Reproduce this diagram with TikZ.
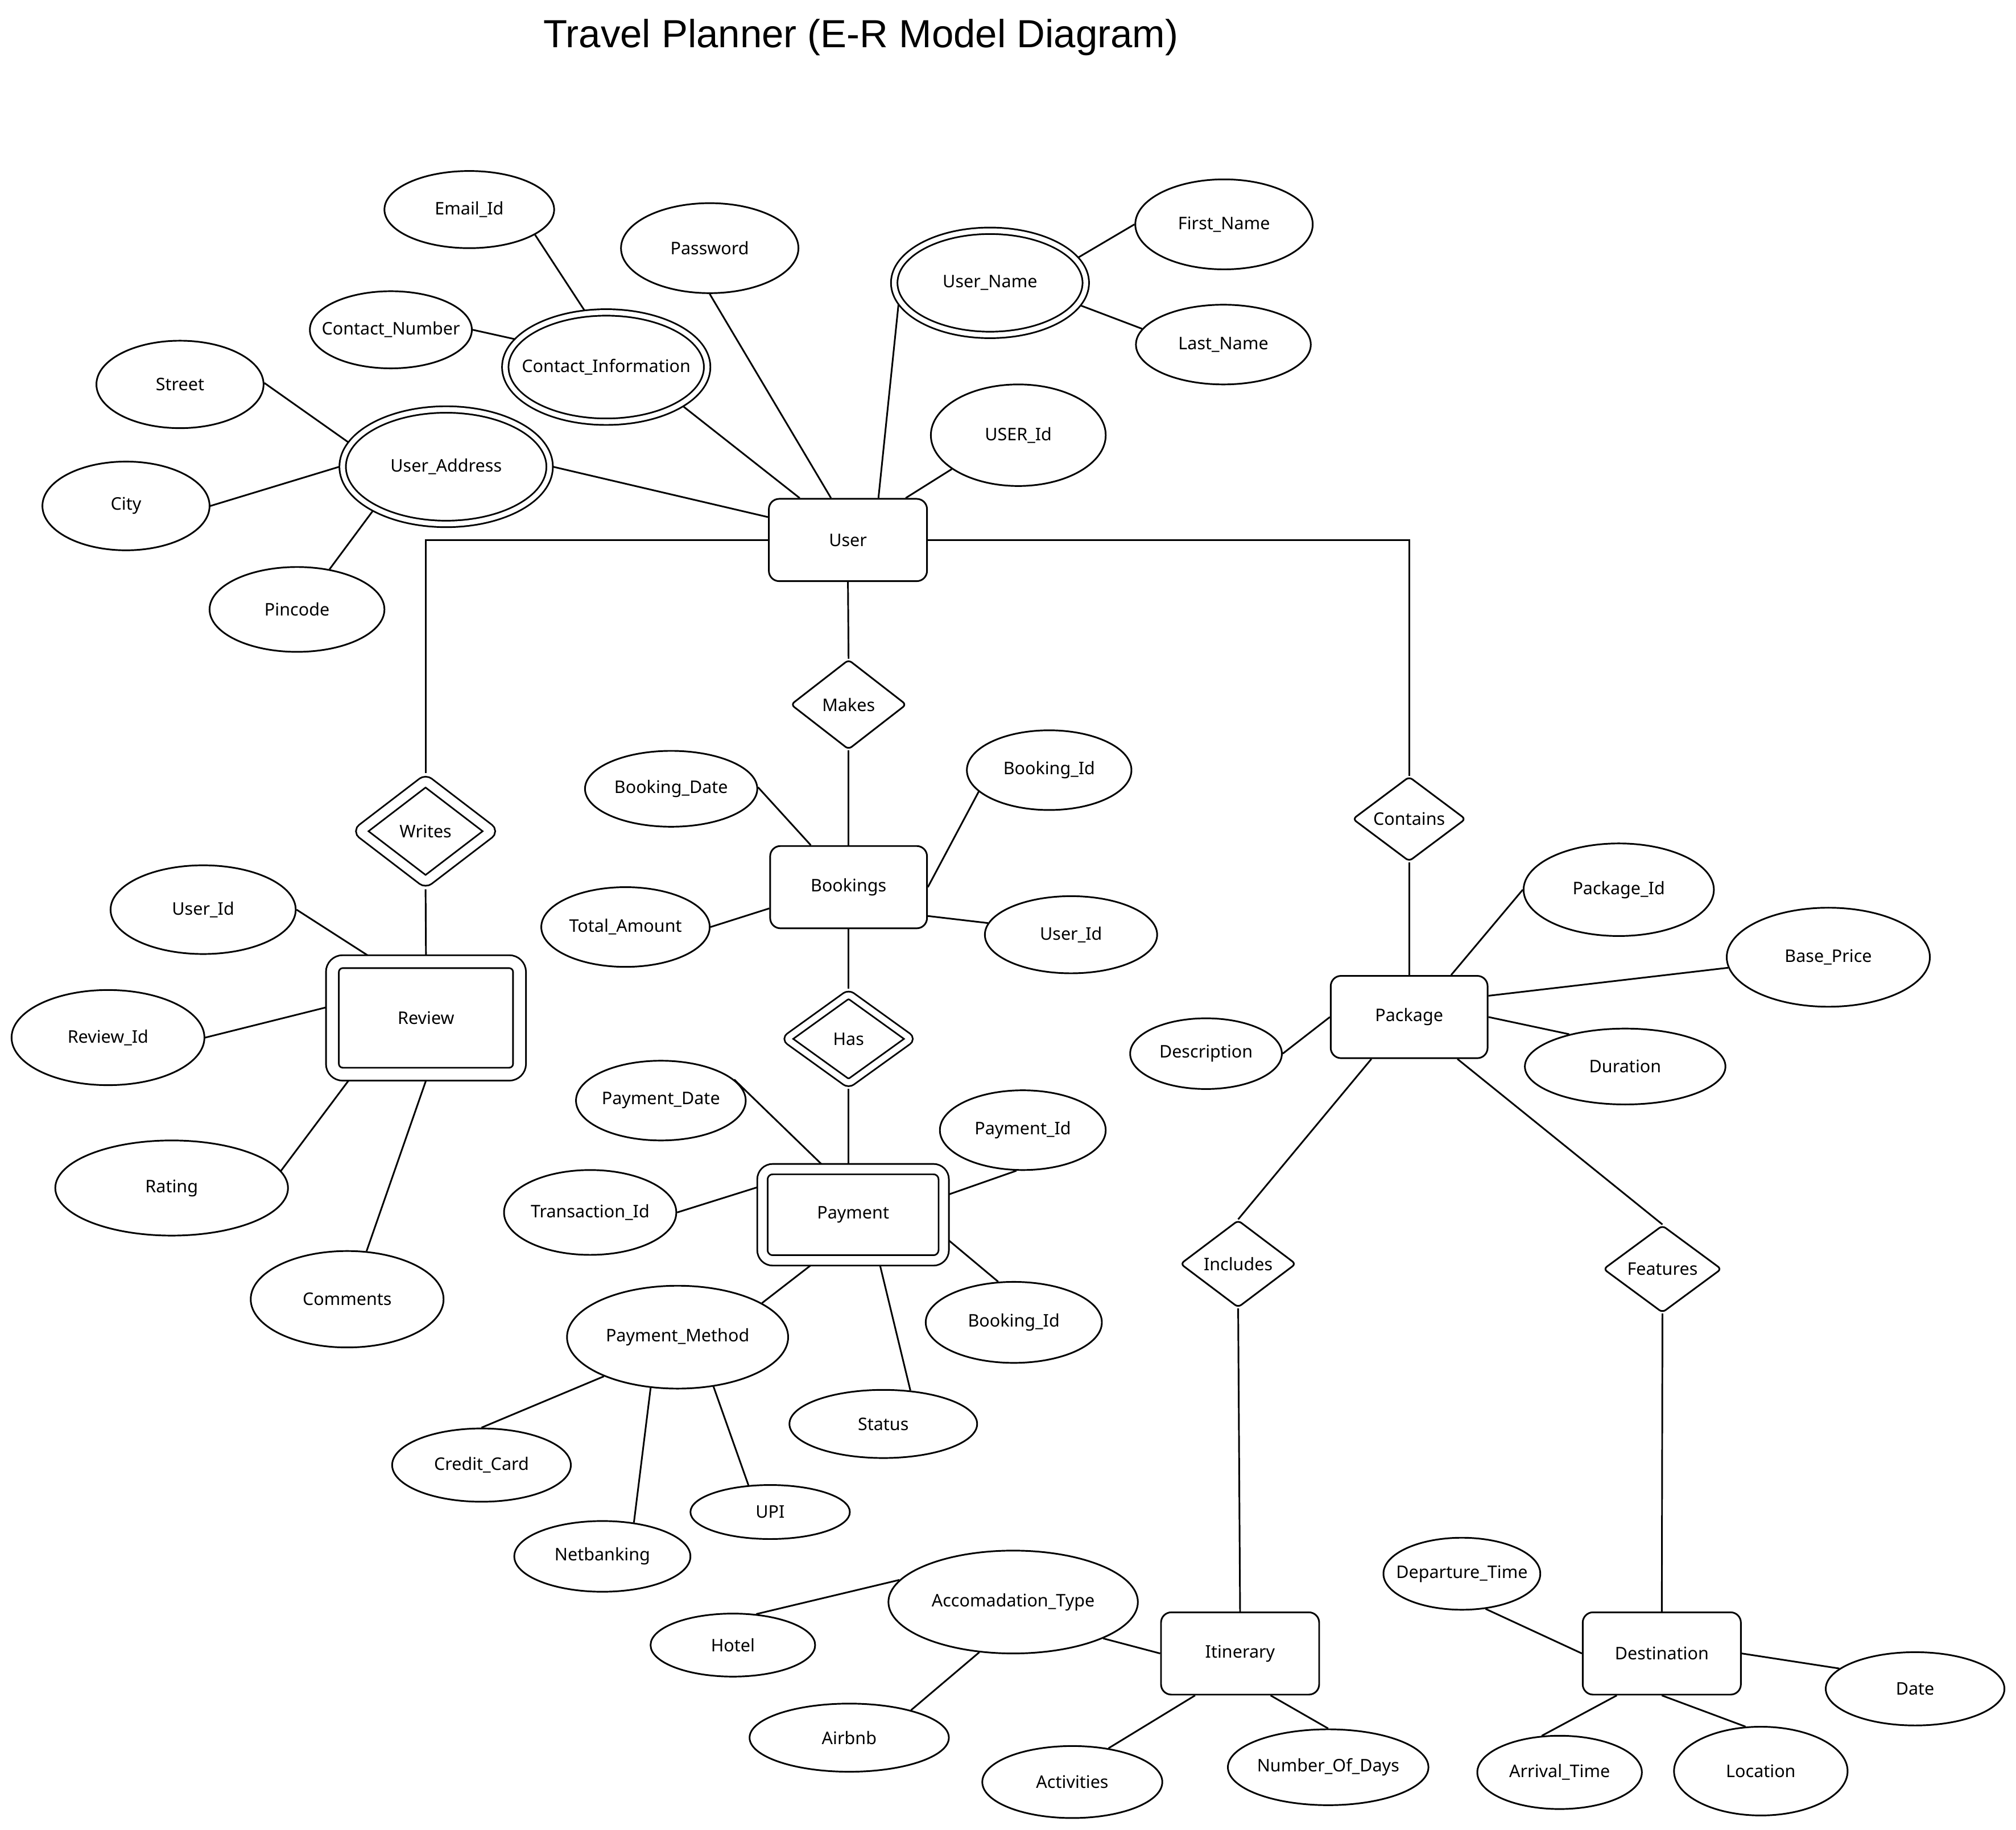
\documentclass[tikz,border=0pt]{standalone}
\usepackage{fontspec}
\setmainfont{Noto Sans}
\newfontfamily\titlefont{Liberation Sans}
\usetikzlibrary{shapes.geometric}
\newcommand\lbl[1]{\makebox[0pt]{#1}}
\newcommand\lblfont{\fontsize{13.5}{16}\selectfont}
\begin{document}
\begin{tikzpicture}[x=1pt,y=-1pt,
  base/.style={draw, line width=1.3pt, inner sep=0pt, font=\lblfont},
  attr/.style 2 args={base, ellipse, minimum width=2*#1, minimum height=2*#2},
  dattr/.style 2 args={base, ellipse, minimum width=2*#1, minimum height=2*#2, double, double distance=3.7pt, outer sep=2.5pt},
  entity/.style 2 args={base, rectangle, rounded corners=8pt, minimum width=#1, minimum height=#2},
  dentity/.style n args={4}{base, rectangle, rounded corners=8pt, minimum width=#1, minimum height=#2, double, double distance=#3, outer sep=#4},
  rel/.style 2 args={base, diamond, rounded corners=3pt, minimum width=#1, minimum height=#2},
  drel/.style n args={4}{base, diamond, rounded corners=3pt, minimum width=#1, minimum height=#2, double, double distance=#3, outer sep=#4},
  conn/.style={line width=1.3pt}]
\useasboundingbox (0,0) rectangle (1568,1423);

\node[font=\titlefont\fontsize{30.5}{36}\selectfont] (title) at (669.5,29) {Travel Planner (E-R Model Diagram)};

% entities
\node[entity={123}{64}] (user) at (659.5,420) {\lbl{User}};
\node[entity={122}{64}] (bookings) at (660,690) {\lbl{Bookings}};
\node[entity={122}{64}] (package) at (1096,791) {\lbl{Package}};
\node[entity={123}{64}] (itinerary) at (964.5,1286) {\lbl{Itinerary}};
\node[entity={123}{64}] (destination) at (1292.5,1286) {\lbl{Destination}};
\node[dentity={145.5}{87.5}{8.7pt}{5pt}] (review) at (331.3,791.7) {\lbl{Review}};
\node[dentity={141}{71}{6.7pt}{4pt}] (payment) at (663.5,944.8) {\lbl{Payment}};

% relationships
\node[rel={90}{70}] (makes) at (660,548) {\lbl{Makes}};
\node[rel={88}{66}] (contains) at (1096,637) {\lbl{Contains}};
\node[rel={90}{68}] (includes) at (963,983) {\lbl{Includes}};
\node[rel={92}{68}] (features) at (1293,987) {\lbl{Features}};
\node[drel={106}{82}{7pt}{4.2pt}] (writes) at (331,646.5) {\lbl{Writes}};
\node[drel={99}{72}{4.7pt}{3pt}] (has) at (660,808) {\lbl{Has}};

% attributes
\node[attr={66}{30}] (email) at (365,163) {\lbl{Email\_Id}};
\node[attr={69}{35}] (password) at (552,193) {\lbl{Password}};
\node[dattr={74.5}{40.5}] (username) at (770,220) {\lbl{User\_Name}};
\node[attr={69}{35}] (firstname) at (952,174.5) {\lbl{First\_Name}};
\node[attr={68}{31}] (lastname) at (951.5,268) {\lbl{Last\_Name}};
\node[attr={63}{30}] (contactnum) at (304,256.5) {\lbl{Contact\_Number}};
\node[dattr={78.5}{42.5}] (contactinfo) at (471.5,285.5) {\lbl{Contact\_Information}};
\node[attr={65}{34}] (street) at (140,299) {\lbl{Street}};
\node[dattr={80.5}{44.5}] (useraddr) at (347,363) {\lbl{User\_Address}};
\node[attr={65}{34.5}] (city) at (98,393.5) {\lbl{City}};
\node[attr={68}{33}] (pincode) at (231,474) {\lbl{Pincode}};
\node[attr={68}{39.5}] (userid) at (792,338.5) {\lbl{USER\_Id}};
\node[attr={67}{29.5}] (bookingdate) at (522,613.5) {\lbl{Booking\_Date}};
\node[attr={64}{31}] (bookingid) at (816,599) {\lbl{Booking\_Id}};
\node[attr={65.5}{31}] (totalamount) at (486.5,721) {\lbl{Total\_Amount}};
\node[attr={67}{30}] (useridb) at (833,727) {\lbl{User\_Id}};
\node[attr={72}{34.5}] (useridr) at (158,707.5) {\lbl{User\_Id}};
\node[attr={75}{37}] (reviewid) at (84,807) {\lbl{Review\_Id}};
\node[attr={90.5}{37}] (rating) at (133.5,924) {\lbl{Rating}};
\node[attr={75}{37.5}] (comments) at (270,1010.5) {\lbl{Comments}};
\node[attr={66}{31}] (paymentdate) at (514,856) {\lbl{Payment\_Date}};
\node[attr={64.5}{31}] (paymentid) at (795.5,879) {\lbl{Payment\_Id}};
\node[attr={67}{33}] (transactionid) at (459,943) {\lbl{Transaction\_Id}};
\node[attr={68.5}{31.5}] (bookingidp) at (788.5,1028.5) {\lbl{Booking\_Id}};
\node[attr={86}{40}] (paymentmethod) at (527,1040) {\lbl{Payment\_Method}};
\node[attr={73}{26.5}] (status) at (687,1107.5) {\lbl{Status}};
\node[attr={69.5}{28.5}] (creditcard) at (374.5,1139.5) {\lbl{Credit\_Card}};
\node[attr={62}{21}] (upi) at (599,1176) {\lbl{UPI}};
\node[attr={68.5}{27.5}] (netbanking) at (468.5,1210.5) {\lbl{Netbanking}};
\node[attr={74}{36}] (packageid) at (1259,692) {\lbl{Package\_Id}};
\node[attr={79}{38.5}] (baseprice) at (1422,744.5) {\lbl{Base\_Price}};
\node[attr={59}{27.5}] (description) at (938,819.5) {\lbl{Description}};
\node[attr={78}{29.5}] (duration) at (1264,829.5) {\lbl{Duration}};
\node[attr={97}{40}] (accom) at (788,1246) {\lbl{Accomadation\_Type}};
\node[attr={64}{24.5}] (hotel) at (570,1279.5) {\lbl{Hotel}};
\node[attr={77.5}{26.5}] (airbnb) at (660.5,1351.5) {\lbl{Airbnb}};
\node[attr={70}{28}] (activities) at (834,1386) {\lbl{Activities}};
\node[attr={78}{29.5}] (nod) at (1033,1374.5) {\lbl{Number\_Of\_Days}};
\node[attr={61}{28}] (departure) at (1137,1224) {\lbl{Departure\_Time}};
\node[attr={69.5}{28.5}] (date) at (1489.5,1313.5) {\lbl{Date}};
\node[attr={64}{28.5}] (arrival) at (1213,1378.5) {\lbl{Arrival\_Time}};
\node[attr={67.5}{34.5}] (location) at (1369.5,1377.5) {\lbl{Location}};

% connectors: user
\draw[conn] (email.339) -- (contactinfo.111);
\draw[conn] (contactnum.east) -- (contactinfo.163);
\draw[conn] (contactinfo.333) -- (user.139);
\draw[conn] (password.south) -- (user.112);
\draw[conn] (username.193) -- (user.54);
\draw[conn] (userid.207) -- (user.36);
\draw[conn] (username.16) -- (firstname.west);
\draw[conn] (username.346) -- (lastname.169.5);
\draw[conn] (street.1) -- (useraddr.166);
\draw[conn] (city.east) -- (useraddr.west);
\draw[conn] (pincode.51) -- (useraddr.211.5);
\draw[conn] (useraddr.east) -- (user.164.5);
\draw[conn] (user.west) -- (writes.north |- user.west) -- (writes.north);
\draw[conn] (user.east) -- (contains.north |- user.east) -- (contains.north);
\draw[conn] (user.south) -- (makes.north);
\draw[conn] (makes.south) -- (bookings.north);
% bookings
\draw[conn] (bookingdate.1) -- (bookings.132);
\draw[conn] (bookingid.197.5) -- (bookings.east);
\draw[conn] (totalamount.east) -- (bookings.195.3);
\draw[conn] (useridb.172) -- (bookings.340);
\draw[conn] (bookings.south) -- (has.north);
\draw[conn] (has.south) -- (has.south |- payment.north);
% review
\draw[conn] (writes.south) -- (review.north);
\draw[conn] (useridr.east) -- (review.133);
\draw[conn] (reviewid.east) -- (review.174.3);
\draw[conn] (rating.9) -- (review.219.3);
\draw[conn] (comments.68) -- (review.south);
% payment
\draw[conn] (paymentdate.16) -- (payment.122.6);
\draw[conn] (paymentid.261) -- (payment.12);
\draw[conn] (transactionid.east) -- (payment.164.4);
\draw[conn] (payment.345.5) -- (bookingidp.111.6);
\draw[conn] (payment.230.2) -- (paymentmethod.22.2);
\draw[conn] (payment.298) -- (status.51.6);
\draw[conn] (paymentmethod.208.5) -- (creditcard.north);
\draw[conn] (paymentmethod.242) -- (netbanking.47.2);
\draw[conn] (paymentmethod.306) -- (upi.129);
% package
\draw[conn] (contains.south) -- (package.north);
\draw[conn] (packageid.west) -- (package.45.9);
\draw[conn] (baseprice.186.1) -- (package.15.1);
\draw[conn] (description.east) -- (package.west);
\draw[conn] (duration.150.6) -- (package.east);
\draw[conn] (package.228.8) -- (includes.north);
\draw[conn] (package.319.1) -- (features.north);
\draw[conn] (includes.south) -- (itinerary.north);
\draw[conn] (features.south) -- (destination.north);
% itinerary
\draw[conn] (accom.338) -- (itinerary.west);
\draw[conn] (accom.169) -- (hotel.53.3);
\draw[conn] (accom.236.3) -- (airbnb.24.8);
\draw[conn] (itinerary.223.7) -- (activities.43.9);
\draw[conn] (itinerary.306.9) -- (nod.north);
% destination
\draw[conn] (departure.304.6) -- (destination.west);
\draw[conn] (destination.east) -- (date.165.2);
\draw[conn] (destination.223.8) -- (arrival.116.2);
\draw[conn] (destination.south) -- (location.109.9);
\end{tikzpicture}
\end{document}
